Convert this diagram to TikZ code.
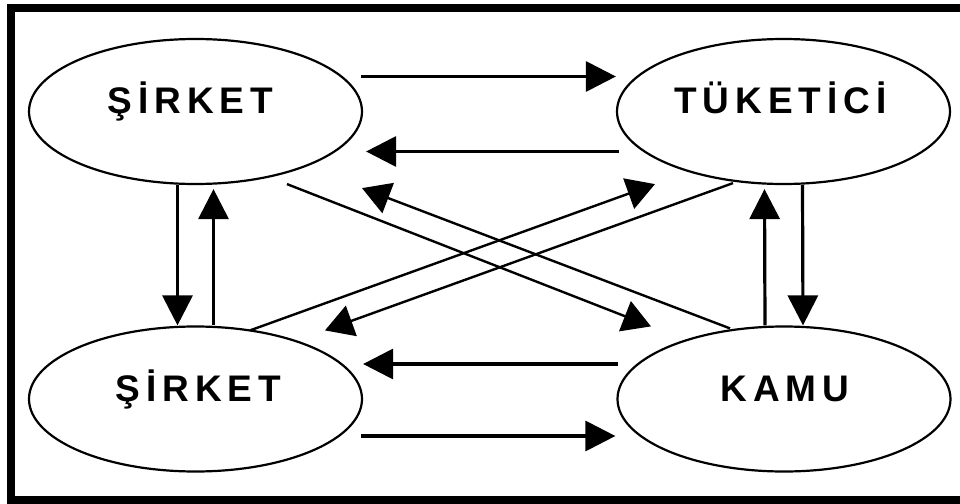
\documentclass[tikz,border=0pt]{standalone}
\usepackage{fontspec}
\usepackage{tikz}
\usetikzlibrary{arrows.meta,calc,shapes.geometric}
\newfontfamily\kutufont[LetterSpace=16]{Liberation Sans}

\begin{document}
\begin{tikzpicture}[x=0.5pt, y=-0.5pt,
        kutu/.style={draw, ellipse, line width=1.1pt, minimum width=166.5pt, minimum height=72.5pt, inner sep=0pt},
        yazi/.style={anchor=base, inner sep=0pt, font=\kutufont\bfseries\fontsize{18.5}{22}\selectfont},
        ok/.style={line width=1.6pt, -{Triangle[length=15pt, width=15pt]}},
        capraz/.style={line width=1.2pt, -{Triangle[length=14pt, width=16pt]}}]
            \useasboundingbox (0,0) rectangle (960,504);
            \draw[line width=4pt] (11,8) rectangle (975,500);
            \node[kutu] (sirketust) at (195.5,111.5) {};
            \node[kutu] (tuketici) at (783.5,111.5) {};
            \node[kutu] (sirketalt) at (195.5,399) {};
            \node[kutu] (kamu) at (784,399) {};
            \node[yazi] (t1) at ($(sirketust.center)+(-5,1.5)$) {ŞİRKET};
            \node[yazi] (t2) at ($(tuketici.center)+(-3,1.5)$) {TÜKETİCİ};
            \node[yazi] (t3) at ($(sirketalt.center)+(3,2)$) {ŞİRKET};
            \node[yazi] (t4) at ($(kamu.center)+(1,2)$) {KAMU};
            \draw[ok] ($(sirketust.east)+(-2,-35)$) -- ($(tuketici.west)+(0,-35)$);
            \draw[ok] ($(tuketici.west)+(3,40)$) -- ($(sirketust.east)+(3,40)$);
            \draw[ok] ($(kamu.west)+(2,-35)$) -- ($(sirketalt.east)+(0,-35)$);
            \draw[ok] ($(sirketalt.east)+(-2,37)$) -- ($(kamu.west)+(-1,37)$);
            \draw[ok] ($(sirketust.south)+(-18,0)$) -- ($(sirketalt.north)+(-18,0)$);
            \draw[ok] ($(sirketalt.north)+(18,0)$) -- ($(sirketust.south)+(18,4)$);
            \draw[ok] ($(kamu.north)+(-19,0)$) -- ($(tuketici.south)+(-19,4)$);
            \draw[ok] ($(tuketici.south)+(19,0)$) -- ($(kamu.north)+(19,0)$);
            \draw[capraz] ($(sirketust.south)+(91.5,-1)$) -- ($(kamu.north)+(-133,1)$);
            \draw[capraz] ($(kamu.north)+(-54,3)$) -- ($(sirketust.south)+(166.5,3)$);
            \draw[capraz] ($(sirketalt.north)+(54.5,5)$) -- ($(tuketici.south)+(-128.5,-1)$);
            \draw[capraz] ($(tuketici.south)+(-50.5,-2)$) -- ($(sirketalt.north)+(129.5,5)$);
        \end{tikzpicture}
\end{document}
